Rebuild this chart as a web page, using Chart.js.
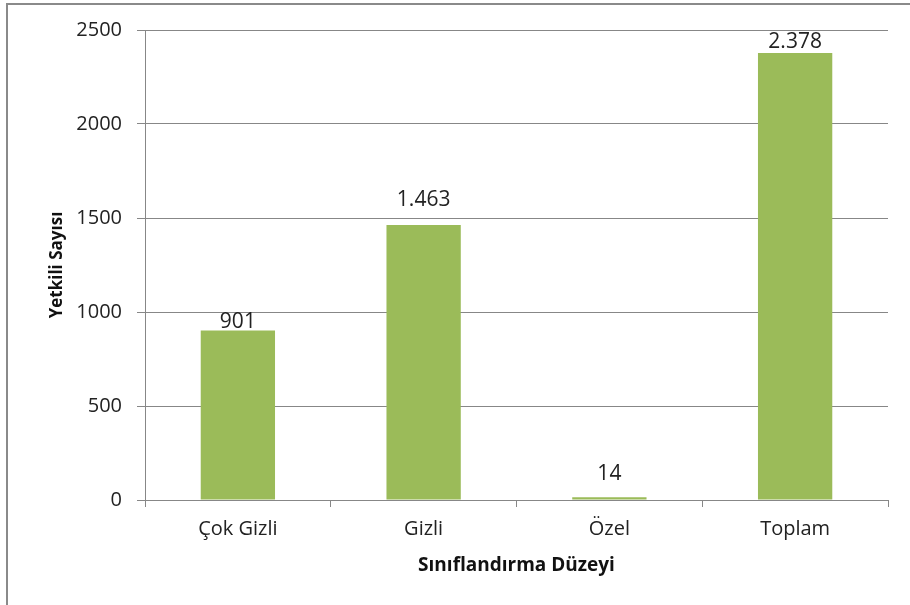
<!DOCTYPE html>
<html>
<head>
<meta charset="utf-8">
<script src="https://cdn.jsdelivr.net/npm/chart.js@4"></script>
<style>
  html, body { margin: 0; padding: 0; background: #fff; overflow: hidden; }
  #frame { position: absolute; left: 6px; top: 3px; width: 1000px; height: 700px; border: 2px solid #8a8a8a; }
  #wrap { position: absolute; left: 0; top: 0; width: 910px; height: 605px; }
</style>
</head>
<body>
<div id="frame"></div>
<div id="wrap"><canvas id="chart" width="910" height="605"></canvas></div>
<script>
const categories = ["Çok Gizli", "Gizli", "Özel", "Toplam"];
const values = [901, 1463, 14, 2378];
const yTicks = [0, 500, 1000, 1500, 2000, 2500];

const FONT = "'Open Sans', sans-serif";
const GRID = "#878787";

// value labels above bars, Turkish thousands separator
const valueLabels = {
  id: "valueLabels",
  afterDatasetsDraw(chart, args, opts) {
    const ctx = chart.ctx;
    const meta = chart.getDatasetMeta(0);
    ctx.save();
    ctx.font = "21px " + FONT;
    ctx.fillStyle = "#222";
    ctx.textAlign = "center";
    ctx.textBaseline = "middle";
    meta.data.forEach((bar, i) => {
      const txt = values[i].toLocaleString("tr-TR");
      ctx.fillText(txt, bar.x, bar.y - opts.gaps[i]);
    });
    ctx.restore();
  }
};

new Chart(document.getElementById("chart"), {
  type: "bar",
  data: {
    labels: categories,
    datasets: [{
      data: values,
      backgroundColor: "#9BBB59",
      borderWidth: 0,
      categoryPercentage: 1,
      barPercentage: 0.4
    }]
  },
  options: {
    responsive: false,
    animation: false,
    layout: { padding: { left: 0, right: 22, top: 30, bottom: 0 } },
    plugins: {
      legend: { display: false },
      tooltip: { enabled: false },
      valueLabels: { gaps: [9, 25, 23, 11] }
    },
    scales: {
      x: {
        grid: { drawOnChartArea: false, offset: true, color: GRID, tickLength: 7 },
        border: { color: GRID },
        ticks: { color: "#222", font: { family: FONT, size: 20 }, padding: 10 },
        title: {
          display: true,
          text: "Sınıflandırma Düzeyi",
          color: "#111",
          font: { family: FONT, size: 19, weight: "bold" },
          padding: { top: 0, bottom: 28 }
        },
        afterFit(scale) { scale.height = 105; }
      },
      y: {
        min: 0,
        max: 2500,
        afterBuildTicks(scale) { scale.ticks = yTicks.map(v => ({ value: v })); },
        grid: { color: GRID, tickLength: 8 },
        border: { color: GRID },
        ticks: {
          color: "#222",
          font: { family: FONT, size: 20 },
          padding: 15,
          callback: v => String(v)
        },
        title: {
          display: true,
          text: "Yetkili Sayısı",
          color: "#111",
          font: { family: FONT, size: 17, weight: "bold" },
          padding: { top: 47, bottom: 0 }
        },
        afterFit(scale) { scale.width = 145; }
      }
    }
  },
  plugins: [valueLabels]
});
</script>
</body>
</html>
